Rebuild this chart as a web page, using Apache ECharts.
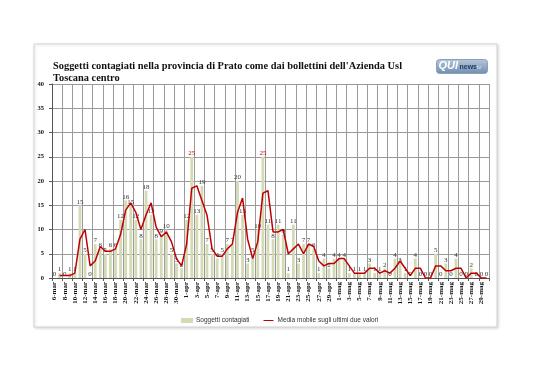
<!DOCTYPE html>
<html>
<head>
<meta charset="utf-8">
<script src="https://cdn.jsdelivr.net/npm/echarts@6/dist/echarts.min.js"></script>
<style>
html,body{margin:0;padding:0;background:#fff;}
#chart{width:538px;height:380px;}
</style>
</head>
<body>
<div id="chart"></div>
<script>
var categories = [
 '6-mar','7-mar','8-mar','9-mar','10-mar','11-mar','12-mar','13-mar','14-mar','15-mar',
 '16-mar','17-mar','18-mar','19-mar','20-mar','21-mar','22-mar','23-mar','24-mar','25-mar',
 '26-mar','27-mar','28-mar','29-mar','30-mar','31-mar',
 '1-apr','2-apr','3-apr','4-apr','5-apr','6-apr','7-apr','8-apr','9-apr','10-apr',
 '11-apr','12-apr','13-apr','14-apr','15-apr','16-apr','17-apr','18-apr','19-apr','20-apr',
 '21-apr','22-apr','23-apr','24-apr','25-apr','26-apr','27-apr','28-apr','29-apr','30-apr',
 '1-mag','2-mag','3-mag','4-mag','5-mag','6-mag','7-mag','8-mag','9-mag','10-mag',
 '11-mag','12-mag','13-mag','14-mag','15-mag','16-mag','17-mag','18-mag','19-mag','20-mag',
 '21-mag','22-mag','23-mag','24-mag','25-mag','26-mag','27-mag','28-mag','29-mag','30-mag'
];
var contagiati = [
 0,1,0,1,1,15,5,0,7,6,
 5,6,6,12,16,15,12,8,18,13,
 8,9,10,5,3,2,
 12,25,13,19,7,5,4,5,7,7,
 20,13,3,5,10,25,11,8,11,9,
 1,11,3,7,7,6,1,4,2,4,
 4,4,1,1,1,1,3,1,1,2,
 0,4,3,1,0,4,0,0,0,5,
 0,3,0,4,0,0,2,0,0,0
];
var mediaMobile = [
 null,0.5,0.5,0.5,1,8,10,2.5,3.5,6.5,
 5.5,5.5,6,9,14,15.5,13.5,10,13,15.5,
 10.5,8.5,9.5,7.5,4,2.5,
 7,18.5,19,16,13,6,4.5,4.5,6,7,
 13.5,16.5,8,4,7.5,17.5,18,9.5,9.5,10,
 5,6,7,5,7,6.5,3.5,2.5,3,3,
 4,4,2.5,1,1,1,2,2,1,1.5,
 1,2,3.5,2,0.5,2,2,0,0,2.5,
 2.5,1.5,1.5,2,2,0,1,1,0,0
];
var yTicks = {min: 0, max: 40, interval: 5};
var titleText = "Soggetti contagiati nella provincia di Prato come dai bollettini dell'Azienda Usl\nToscana centro";
var seriesNames = ['Soggetti contagiati', 'Media mobile sugli ultimi due valori'];

var chart = echarts.init(document.getElementById('chart'), null, {renderer: 'canvas'});
var barData = contagiati.map(function (v) {
  return {value: v, label: {color: v === 25 ? '#c00000' : '#333333'}};
});
var option = {
  animation: false,
  backgroundColor: '#ffffff',
  title: {
    text: titleText,
    left: 48, top: 55,
    textStyle: {fontFamily: 'Liberation Serif', fontWeight: 'bold', fontSize: 10.4, color: '#111', lineHeight: 12}
  },
  legend: {
    left: 176, top: 312,
    itemWidth: 12, itemHeight: 5, itemGap: 14,
    textStyle: {fontFamily: 'Liberation Sans', fontSize: 6.5, color: '#333', padding: [0, 0, 0, -2]},
    data: [
      {name: seriesNames[0], icon: 'rect'},
      {name: seriesNames[1], icon: 'path://M0,0h0.01v0.01h-0.01z M0,4h20v2.2h-20z M0,10h0.01v0.01h-0.01z'}
    ]
  },
  grid: {left: 52, right: 49, top: 84, bottom: 102, containLabel: false},
  xAxis: {
    type: 'category',
    data: categories,
    boundaryGap: true,
    axisLine: {lineStyle: {color: '#555', width: 1}},
    axisTick: {show: true, interval: 1, length: 3, lineStyle: {color: '#555'}},
    axisLabel: {
      interval: 1, rotate: 90, margin: 4,
      fontFamily: 'Liberation Serif', fontWeight: 'bold', fontSize: 7, color: '#111'
    },
    splitLine: {show: true, interval: 1, lineStyle: {color: '#9a9a9a', width: 1}}
  },
  yAxis: {
    type: 'value',
    min: yTicks.min, max: yTicks.max, interval: yTicks.interval,
    axisLine: {show: true, lineStyle: {color: '#555'}},
    axisTick: {show: true, length: 3, lineStyle: {color: '#555'}},
    axisLabel: {margin: 8, fontFamily: 'Liberation Serif', fontWeight: 'bold', fontSize: 6.5, color: '#111'},
    splitLine: {show: true, lineStyle: {color: '#9a9a9a', width: 1}}
  },
  series: [
    {
      name: seriesNames[0],
      type: 'bar',
      data: barData,
      barWidth: '55%',
      itemStyle: {color: '#d5dab6'},
      label: {
        show: true, position: 'top', distance: 0,
        fontFamily: 'Liberation Serif', fontSize: 7
      },
      z: 2
    },
    {
      name: seriesNames[1],
      type: 'line',
      data: mediaMobile,
      symbol: 'none',
      smooth: false,
      lineStyle: {color: '#c00000', width: 1.5},
      itemStyle: {color: '#c00000'},
      z: 3
    }
  ],
  graphic: [
    {
      type: 'rect', z: -10, silent: true,
      shape: {x: 34, y: 44, width: 463, height: 283},
      style: {fill: '#ffffff', stroke: '#d4d4d4', lineWidth: 1,
        shadowBlur: 3, shadowOffsetX: 1, shadowOffsetY: 1, shadowColor: 'rgba(0,0,0,0.15)'}
    },
    {
      type: 'group', left: 436, top: 59,
      children: [
        {type: 'rect', shape: {x: 0, y: 0, width: 51, height: 14, r: 3},
          style: {fill: new echarts.graphic.LinearGradient(0, 0, 0, 1, [
            {offset: 0, color: '#b9c8da'}, {offset: 1, color: '#6f8cb0'}]), stroke: '#8aa0bc'}},
        {type: 'text', x: 2, y: 1, style: {text: 'QUI', fill: '#ffffff', font: 'bold italic 11px Liberation Sans'}},
        {type: 'text', x: 23, y: 4, style: {text: 'news', fill: '#1f3f6a', font: 'bold 7px Liberation Sans'}},
        {type: 'text', x: 40, y: 5, style: {text: 'tv', fill: '#dde6f0', font: '6px Liberation Sans'}}
      ]
    }
  ]
};
chart.setOption(option);
</script>
</body>
</html>
